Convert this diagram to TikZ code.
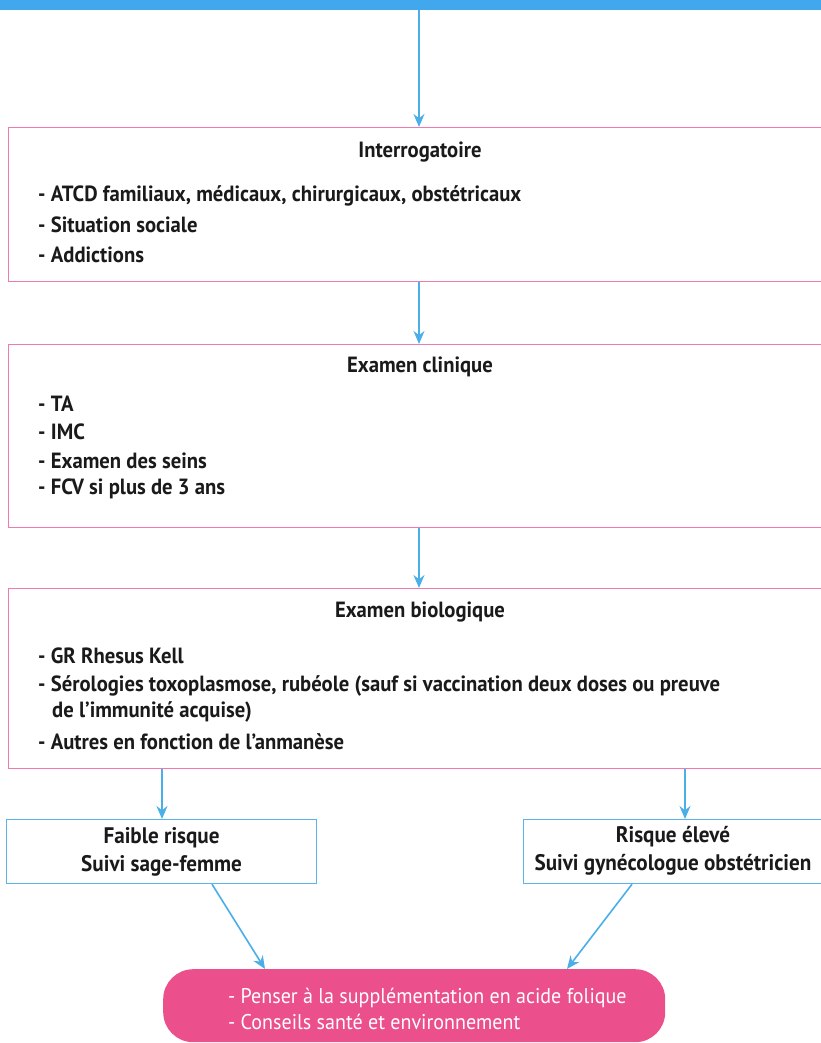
\documentclass[tikz,border=0pt]{standalone}
\usepackage{fontspec}
\setmainfont{PT Sans}[FakeStretch=0.94]
\usetikzlibrary{arrows.meta,calc}
\definecolor{barblue}{HTML}{42A8EE}
\definecolor{arrblue}{HTML}{4AAEE8}
\definecolor{pinkline}{HTML}{F07AAE}
\definecolor{boxblue}{HTML}{5AB4EA}
\definecolor{pinkfill}{HTML}{EB4F8C}
\definecolor{txt}{HTML}{1A1A1A}
\tikzset{
  arr/.style={draw=arrblue, line width=1.6pt, -{Stealth[length=13pt,width=11pt]}},
  pinkbox/.style={draw=pinkline, line width=1.3pt, fill=white, anchor=north west, inner sep=0pt},
  bluebox/.style={draw=boxblue, line width=1.2pt, fill=white, anchor=north west, inner sep=0pt},
  ttl/.style={font=\fontsize{22}{26}\selectfont\bfseries, text=txt, inner sep=0pt},
  bul/.style={font=\fontsize{22}{26}\selectfont\bfseries, text=txt, inner sep=0pt, anchor=west},
  risk/.style={font=\fontsize{22.5}{28}\selectfont\bfseries, text=txt, inner sep=0pt, align=center},
  endbox/.style={fill=pinkfill, rounded corners=30pt, anchor=north west, inner sep=0pt},
  endtxt/.style={font=\fontsize{21.3}{26}\selectfont, text=white, inner sep=0pt, anchor=north west, align=left}
}
\begin{document}
\begin{tikzpicture}[x=1pt,y=-1pt]
\useasboundingbox (0,0) rectangle (821,1043);
\begin{scope}
\clip (0,0) rectangle (821,1043);
% top bar
\node[fill=barblue, anchor=north west, minimum width=821pt, minimum height=10pt, inner sep=0pt] (bar) at (0,0) {};
% box 1
\node[pinkbox, minimum width=816pt, minimum height=154pt] (b1) at (8,127) {};
\node[ttl] (t1) at (420,152) {Interrogatoire};
\node[bul] (b1a) at (38,196) {- ATCD familiaux, médicaux, chirurgicaux, obstétricaux};
\node[bul] (b1b) at (38,225) {- Situation sociale};
\node[bul] (b1c) at (38,255) {- Addictions};
% box 2
\node[pinkbox, minimum width=816pt, minimum height=183pt] (b2) at (8,344) {};
\node[ttl] (t2) at (420,367) {Examen clinique};
\node[bul] (b2a) at (38,404) {- TA};
\node[bul] (b2b) at (38,432) {- IMC};
\node[bul] (b2c) at (38,461) {- Examen des seins};
\node[bul] (b2d) at (38,489) {- FCV si plus de 3 ans};
% box 3
\node[pinkbox, minimum width=816pt, minimum height=180pt] (b3) at (8,588) {};
\node[ttl] (t3) at (420,612) {Examen biologique};
\node[bul] (b3a) at (38,656) {- GR Rhesus Kell};
\node[bul] (b3b) at (38,686) {- Sérologies toxoplasmose, rubéole (sauf si vaccination deux doses ou preuve};
\node[bul] (b3c) at (52,712) {de l’immunité acquise)};
\node[bul] (b3d) at (38,742) {- Autres en fonction de l’anmanèse};
% risk boxes
\node[bluebox, minimum width=310pt, minimum height=64pt] (f) at (6,819) {};
\node[risk] (ft) at (f.center) {Faible risque\\Suivi sage-femme};
\node[bluebox, minimum width=302pt, minimum height=64pt] (r) at (523,819) {};
\node[risk] (rt) at (673,851) {Risque élevé\\Suivi gynécologue obstétricien};
% end box
\node[endbox, minimum width=502pt, minimum height=73pt] (e) at (163,969) {};
\node[endtxt] (et) at (228,988) {- Penser à la supplémentation en acide folique\\- Conseils santé et environnement};
% connectors
\draw[arr] (bar.south -| 419,0) -- (b1.north -| 419,0);
\draw[arr] (b1.south -| 419,0) -- (b2.north -| 419,0);
\draw[arr] (b2.south -| 419,0) -- (b3.north -| 419,0);
\draw[arr] (b3.south -| 162,0) -- (f.north -| 162,0);
\draw[arr] (b3.south -| 685,0) -- (r.north -| 685,0);
\coordinate (fa) at ($(f.south west)+(206,0)$);
\coordinate (ea) at ($(e.north west)+(102,0)$);
\draw[arr] (fa) -- (ea);
\coordinate (ra) at ($(r.south west)+(109,0)$);
\coordinate (eb) at ($(e.north west)+(404,0)$);
\draw[arr] (ra) -- (eb);
\end{scope}
\end{tikzpicture}
\end{document}
